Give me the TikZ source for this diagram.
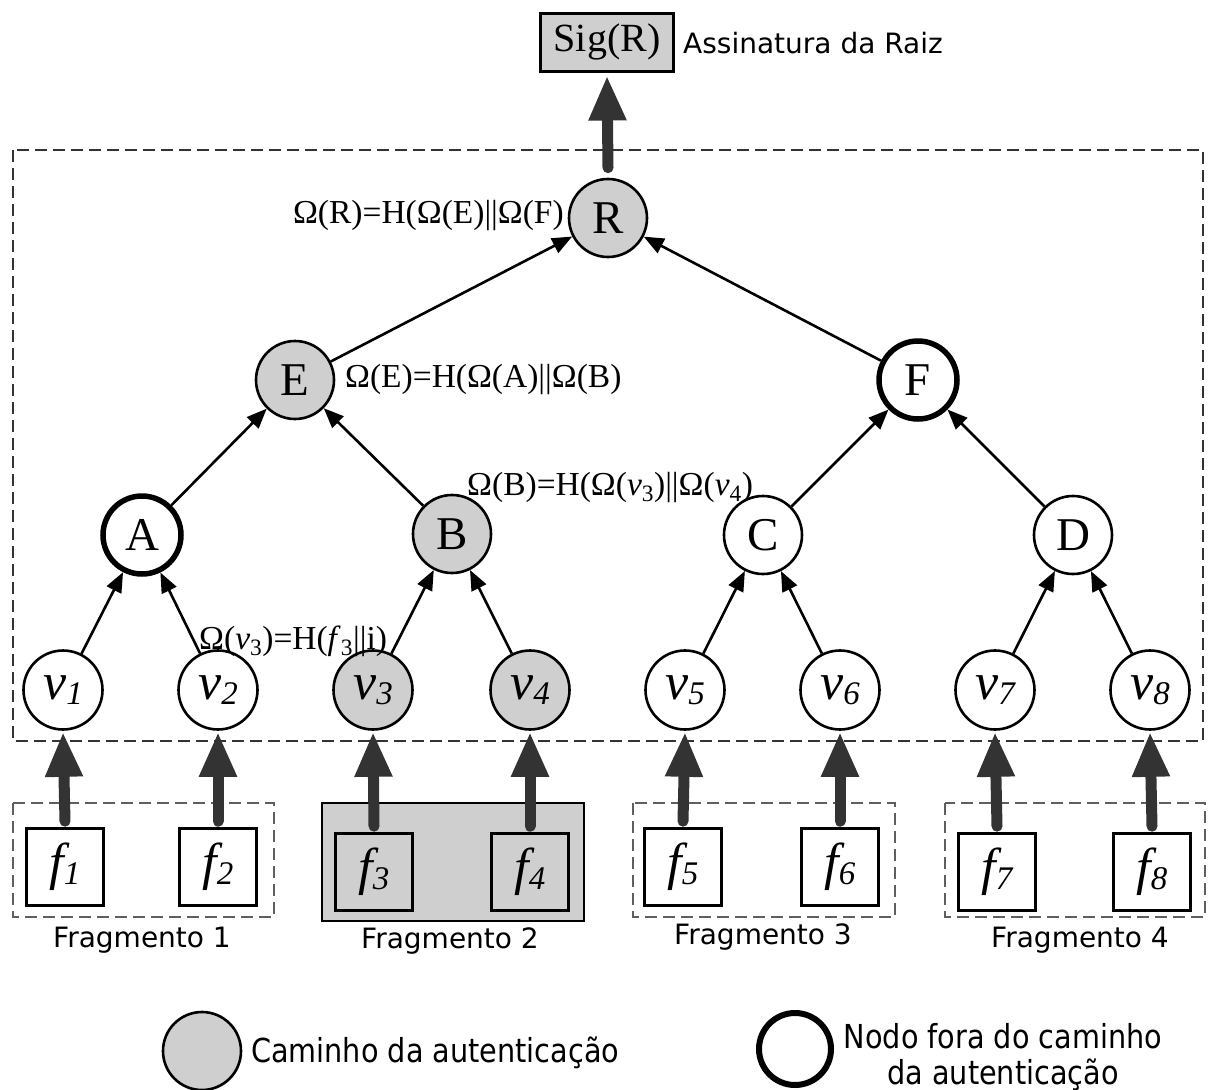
\documentclass[tikz,border=0pt]{standalone}
\usepackage{fontspec}
\setmainfont{Liberation Serif}
\newfontfamily\labelfont{DejaVu Sans}
\newfontfamily\legendfont[FakeStretch=0.87]{DejaVu Sans}
\usetikzlibrary{arrows.meta}

\definecolor{pathgray}{RGB}{207,207,207}
\definecolor{feedgray}{RGB}{51,51,51}
\definecolor{fraggray}{RGB}{95,95,95}

% leaf and fragment labels: italic letter with a lowered italic index
\newcommand\leafname[2]{#1\raisebox{-5pt}{\fontsize{33}{33}\selectfont #2}}

\tikzset{
  treenode/.style={circle, draw=black, line width=2.6pt, minimum size=78pt,
    inner sep=0pt, font=\fontsize{47}{47}\selectfont},
  authnode/.style={treenode, fill=pathgray},
  offnode/.style={treenode, line width=5.5pt},
  leafnode/.style={treenode, minimum size=79pt, font=\fontsize{52}{52}\selectfont\itshape},
  authleaf/.style={leafnode, fill=pathgray},
  fragitem/.style={draw=black, line width=2.6pt, minimum width=77pt, minimum height=77pt,
    inner sep=0pt, font=\fontsize{52}{52}\selectfont\itshape},
  hashedge/.style={line width=2.6pt, -{Triangle[length=20pt,width=16pt]}},
  feedarrow/.style={draw=feedgray, line width=11pt, line cap=round,
    -{Triangle[length=45pt,width=35pt]}},
  fragframe/.style={draw=fraggray, line width=2pt, dash pattern=on 12pt off 6pt},
  treeframe/.style={draw=black!80, line width=1.8pt, dash pattern=on 12pt off 6pt},
  formula/.style={inner sep=0pt, font=\fontsize{33.5}{33.5}\selectfont},
  sanslabel/.style={inner sep=0pt, font=\labelfont\fontsize{28}{28}\selectfont},
  legendlabel/.style={inner sep=0pt, font=\legendfont\fontsize{33}{36}\selectfont},
}

\begin{document}
\begin{tikzpicture}[x=1pt, y=-1pt]
\useasboundingbox (0,0) rectangle (1211,1090);

% root signature
\node[draw=black, line width=3pt, fill=pathgray, minimum width=133pt, minimum height=58pt,
  inner sep=0pt, font=\fontsize{40}{40}\selectfont] (sig) at (607,42) {Sig(R)};
\node[sanslabel, anchor=west] (sigtxt) at (683,43) {Assinatura da Raiz};

% frame round the hash tree
\draw[treeframe] (13,150) rectangle (1203,741);

% tree nodes
\node[authnode] (R) at (608,218) {R};
\node[authnode] (E) at (295,380) {E};
\node[offnode]  (F) at (918,380) {F};
\node[offnode]  (A) at (142,535) {A};
\node[authnode] (B) at (452,534) {B};
\node[treenode] (C) at (763,535) {C};
\node[treenode] (D) at (1073,535) {D};

\node[leafnode] (v1) at (63,690)  {\leafname{v}{1}};
\node[leafnode] (v2) at (218,690) {\leafname{v}{2}};
\node[authleaf] (v3) at (373,690) {\leafname{v}{3}};
\node[authleaf] (v4) at (530,690) {\leafname{v}{4}};
\node[leafnode] (v5) at (685,690) {\leafname{v}{5}};
\node[leafnode] (v6) at (840,690) {\leafname{v}{6}};
\node[leafnode] (v7) at (995,690) {\leafname{v}{7}};
\node[leafnode] (v8) at (1150,690) {\leafname{v}{8}};

% hash edges, child to parent
\foreach \c/\p in {v1/A, v2/A, v3/B, v4/B, v5/C, v6/C, v7/D, v8/D, A/E, B/E, C/F, D/F, E/R, F/R}
  \draw[hashedge] (\c) -- (\p);

% hash formulas
\node[formula, anchor=base east] (fR) at (564,223) {Ω(R)=H(Ω(E)||Ω(F)};
\node[formula, anchor=base west] (fE) at (345,387) {Ω(E)=H(Ω(A)||Ω(B)};
\node[formula, anchor=base west] (fB) at (467,495)
  {Ω(B)=H(Ω(\textit{v}\textsubscript{3})||Ω(\textit{v}\textsubscript{4})};
\node[formula, anchor=base west] (fv) at (199,649)
  {Ω(\textit{v}\textsubscript{3})=H(\textit{f}\textsubscript{3}||i)};

% fragments
\draw[fragframe] (13,803) rectangle (274,917);
\draw[draw=black, line width=2.6pt, fill=pathgray] (322,803) rectangle (584,921);
\draw[fragframe] (633,803) rectangle (895,917);
\draw[fragframe] (945,803) rectangle (1205,917);

\node[fragitem] (f1) at (65,867)   {\leafname{f}{1}};
\node[fragitem] (f2) at (218,867)  {\leafname{f}{2}};
\node[fragitem] (f3) at (374,872)  {\leafname{f}{3}};
\node[fragitem] (f4) at (530,872)  {\leafname{f}{4}};
\node[fragitem] (f5) at (683,867)  {\leafname{f}{5}};
\node[fragitem] (f6) at (840,867)  {\leafname{f}{6}};
\node[fragitem] (f7) at (997,872)  {\leafname{f}{7}};
\node[fragitem] (f8) at (1152,872) {\leafname{f}{8}};

\node[sanslabel, anchor=base] (g1) at (142,947)  {Fragmento 1};
\node[sanslabel, anchor=base] (g2) at (450,948)  {Fragmento 2};
\node[sanslabel, anchor=base] (g3) at (763,944)  {Fragmento 3};
\node[sanslabel, anchor=base] (g4) at (1080,947) {Fragmento 4};

% fragments feed the leaves, root feeds the signature
\foreach \i in {1,...,8}
  \draw[feedarrow] ([yshift=6pt]f\i.north) -- ([yshift=-1pt]v\i.south);
\draw[feedarrow] ([yshift=10pt]R.north) -- ([yshift=-3pt]sig.south);

% legend
\node[authnode, minimum size=78pt] (keyA) at (202,1051) {};
\node[legendlabel, anchor=west] (keyAtxt) at (251,1053) {Caminho da autenticação};
\node[offnode, minimum size=72pt, line width=6pt] (keyB) at (795,1049) {};
\node[legendlabel, align=center] (keyBtxt) at (1003,1057) {Nodo fora do caminho\\da autenticação};
\end{tikzpicture}
\end{document}
